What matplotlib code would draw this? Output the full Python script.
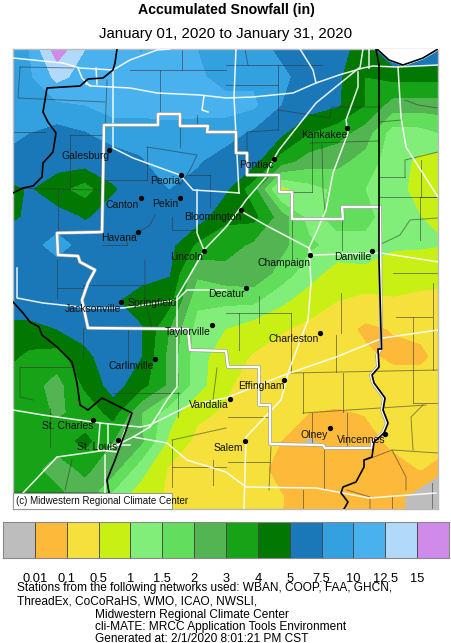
import matplotlib
matplotlib.use('Agg')
import matplotlib.pyplot as plt
import numpy as np

plt.rcParams['font.family'] = ['Liberation Sans', 'DejaVu Sans']

W, H = 452, 643

# legend
levels = [0, 0.01, 0.1, 0.5, 1, 1.5, 2, 3, 4, 5, 7.5, 10, 12.5, 15, 20]
level_labels = ['0.01', '0.1', '0.5', '1', '1.5', '2', '3', '4', '5', '7.5', '10', '12.5', '15']
colors = ['#BDBDBD', '#FDB93A', '#F5E03C', '#C8F015', '#80EE78', '#63DD5C', '#52B552',
          '#17A317', '#027802', '#1A78B8', '#33A0DF', '#4AB1EF', '#B1D9FA', '#D08BEA']

# snowfall (inches), rows top to bottom, x/y are image pixels
grid_x = [1, 29, 57, 85, 113, 141, 169, 197, 225, 253, 281, 309, 337, 365, 393, 421, 449]
grid_y = [49, 77, 105, 133, 161, 189, 217, 245, 273, 301, 329, 357, 385, 413, 441, 469, 497, 525]
snow = [
    [8.7, 10, 18, 12.5, 11, 9.8, 11, 10, 9, 8.5, 7, 6, 6, 4.5, 7.5, 7.5, 7.5],
    [9, 9.5, 13.2, 11.5, 11, 11, 11, 10.5, 9, 9.5, 8, 6.5, 5.5, 4, 4.3, 4.3, 4.3],
    [8.5, 9, 9.5, 10, 11, 11, 11.5, 11, 11, 10.5, 7.5, 6.2, 5.3, 4, 2.5, 2.5, 2.5],
    [8.5, 7.5, 6.5, 7.3, 8.7, 8.7, 8.7, 8.8, 8.7, 7, 5.5, 4, 3.4, 2.5, 1.25, 1.3, 1.6],
    [7, 6.8, 6.2, 6.2, 6, 7.2, 9, 7.8, 6.2, 6, 3.5, 2.5, 2.3, 1.8, 1.2, 0.9, 0.7],
    [4.5, 5.2, 4.3, 3.5, 4.9, 6, 7.5, 6.5, 5.5, 3.4, 0.8, 1.3, 1.6, 1.5, 1.2, 0.8, 0.6],
    [4.5, 5.5, 6, 4.9, 5.8, 6.2, 6, 6.3, 4.2, 4.3, 2.5, 1.3, 1.7, 1.6, 1.3, 1, 0.6],
    [6, 6.5, 8.5, 6.5, 6, 6, 5.8, 3.8, 3.5, 2.8, 2.3, 1.6, 1.3, 1.4, 1.05, 1.05, 1],
    [6, 6, 6, 6, 6, 6, 5.2, 2.2, 2.6, 2.8, 1.8, 1.2, 0.8, 0.8, 0.8, 0.7, 0.7],
    [6, 6, 6, 6, 5.3, 4.5, 4.4, 1.6, 1.6, 1.6, 1.1, 0.75, 0.5, 0.4, 0.45, 0.4, 0.35],
    [4.8, 4.8, 5, 5.7, 6, 5.2, 3, 1.3, 1, 0.7, 0.55, 0.4, 0.3, 0.08, 0.12, 0.2, 0.3],
    [4.5, 3.7, 3.5, 4.8, 6, 5, 2.7, 1.2, 0.7, 0.47, 0.3, 0.25, 0.25, 0.2, 0.08, 0.08, 0.3],
    [3.6, 3.4, 2.6, 4.2, 6, 4.4, 2.8, 1.2, 0.6, 0.3, 0.3, 0.3, 0.3, 0.3, 0.3, 0.3, 0.3],
    [3.5, 3.3, 2.9, 3.2, 4.4, 2, 1.2, 0.6, 0.45, 0.3, 0.11, 0.1, 0.09, 0.12, 0.3, 0.3, 0.3],
    [3.4, 3.3, 3.4, 4.3, 3, 2.2, 0.9, 0.4, 0.3, 0.25, 0.1, 0.008, 0.06, 0.06, 0.2, 0.3, 0.3],
    [3.3, 3.3, 2.6, 3.2, 2.4, 1.2, 0.45, 0.3, 0.3, 0.25, 0.07, 0.06, 0.06, 0.06, 0.06, 0.12, 0.01],
    [3.3, 3.3, 3.3, 2.5, 1.3, 0.7, 0.45, 0.3, 0.3, 0.3, 0.12, 0.06, 0.05, 0.05, 0.05, 0.004, 0.002],
    [3.3, 3, 2.5, 2, 1, 0.6, 0.4, 0.3, 0.3, 0.3, 0.1, 0.05, 0.05, 0.05, 0.05, 0.002, 0.001],
]

# cities: name, dot x, dot y, label left x, label y
cities = [
    ('Galesburg', 109.5, 150, 62, 156), ('Peoria', 181, 175, 150, 181), ('Canton', 141, 198, 106, 205),
    ('Pekin', 180, 198, 152, 204), ('Havana', 138, 232, 101, 238), ('Bloomington', 241, 210, 184, 217),
    ('Lincoln', 204, 251, 170, 257), ('Kankakee', 347, 128, 301, 135), ('Pontiac', 274, 159, 239, 165),
    ('Champaign', 310, 255, 258, 263), ('Danville', 372, 251, 334, 257), ('Decatur', 246, 288, 208, 294),
    ('Springfield', 121, 302, 128, 303), ('Jacksonville', None, None, 65, 309), ('Taylorville', 212, 325, 165, 332),
    ('Charleston', 320, 333, 269, 339), ('Carlinville', 155, 359, 109, 366), ('Effingham', 284, 380, 238, 386),
    ('Vandalia', 230, 399, 189, 405), ('Salem', 245, 441, 214, 448), ('Olney', 330, 428, 301, 435),
    ('Vincennes', 385, 434, 337, 440), ('St. Charles', 93, 420, 42, 426), ('St. Louis', 118, 440, 77, 447),
]

# state lines
state_west_n = [(117, 49), (115, 63), (113, 70), (103, 78), (88, 79), (80, 86), (47, 88), (45, 100), (43, 112),
                (48, 122), (56, 133), (53, 152), (43, 163), (42, 177), (33, 186), (23, 188), (13, 193)]
state_west_s = [(13, 302), (23, 313), (30, 322), (39, 327), (42, 335), (57, 347), (72, 362), (77, 383), (80, 405),
                (88, 410), (102, 398), (112, 403), (132, 413), (125, 433), (115, 460), (107, 480), (109, 493), (109, 500)]
state_east = [(376, 49), (379, 65), (379, 260), (381.5, 349), (378, 349), (379, 367), (372, 375), (374, 383),
              (385, 398), (383, 410), (388, 423), (384, 433), (374, 442), (372, 457), (364, 460), (364, 467),
              (356, 482), (343, 487), (341, 493), (348, 502), (344, 509)]
lake_shore = [(377, 49), (389, 60), (403, 65), (423, 58), (438, 49)]

# forecast area outline
area_outline = [(380, 207), (342, 207), (343, 219), (292, 219), (292, 192), (279, 192), (279, 175), (247, 175),
                (247, 153), (236, 153), (236, 132), (207, 132), (208, 126), (180, 126), (180, 114), (158, 114),
                (158, 125), (104, 125), (102, 232), (57, 233), (58, 255), (78, 256), (80, 262), (95, 270), (88, 283),
                (82, 300), (88, 328), (188, 329), (190, 350), (226, 351), (228, 367), (259, 367), (259, 405),
                (270, 405), (270, 444), (323, 445), (325, 448), (372, 448), (372, 442), (383, 433), (387, 423),
                (382, 410), (384, 398), (373, 383), (371, 375), (378, 367), (377, 355), (381, 349), (380, 207)]

highways = [
    [(13, 58), (33, 60), (63, 63), (80, 68), (113, 70), (130, 60), (157, 50), (170, 49)],
    [(113, 70), (113, 148), (133, 158), (180, 175), (193, 190), (226, 192), (239, 193)],
    [(197, 190), (197, 233), (204, 250)],
    [(239, 210), (269, 227), (309, 248), (312, 255), (381, 253), (439, 262)],
    [(359, 68), (316, 103), (279, 150), (269, 167), (266, 177), (246, 200), (239, 210), (226, 227), (204, 250),
     (197, 263), (177, 297), (177, 387), (167, 400), (150, 427), (133, 437)],
    [(226, 290), (187, 290), (177, 300), (123, 308), (90, 308), (43, 303), (17, 298), (17, 268)],
    [(358, 72), (358, 87), (346, 120), (348, 133), (333, 173), (326, 210), (316, 233), (309, 248), (311, 283),
     (308, 320), (289, 370), (281, 400), (246, 437), (244, 509)],
    [(13, 410), (43, 415), (100, 423), (140, 427), (150, 425), (190, 405), (226, 398), (284, 375), (336, 357),
     (383, 338), (438, 330)],
    [(133, 437), (167, 443), (187, 460), (226, 472), (246, 487), (316, 488), (369, 498), (436, 493)],
    [(23, 493), (57, 457), (107, 450), (133, 437)],
    [(105, 455), (105, 509)],
    [(100, 423), (98, 450), (118, 452), (125, 430)],
    [(108, 425), (108, 445), (130, 445)],
    [(86, 84), (92, 86), (130, 88), (157, 93), (200, 95), (226, 98), (253, 97), (293, 93), (316, 83), (339, 75),
     (363, 68), (373, 66), (397, 67), (438, 65)],
    [(398, 67), (401, 117), (406, 147), (438, 197)],
    [(236, 49), (234, 97), (239, 193)],
    [(300, 49), (313, 70), (316, 83)],
    [(369, 49), (369, 68)],
    [(363, 49), (360, 68)],
    [(204, 96), (202, 110), (208, 112)],
    [(78, 68), (82, 78), (90, 86)],
    [(96, 68), (97, 84)],
]

county_lines = [
    [(20, 67), (73, 68)], [(20, 67), (18, 98), (105, 102)], [(107, 80), (105, 133)], [(13, 132), (45, 132)],
    [(70, 135), (70, 190)], [(70, 135), (105, 135)], [(58, 190), (58, 232)], [(13, 188), (102, 190)],
    [(102, 180), (147, 180)], [(147, 147), (147, 180)], [(147, 147), (197, 155), (190, 170), (180, 185)],
    [(180, 127), (180, 147)], [(197, 115), (197, 127)], [(160, 70), (160, 113)], [(130, 70), (226, 70)],
    [(182, 49), (182, 70)], [(210, 175), (210, 207)], [(187, 175), (210, 175)], [(172, 217), (172, 230), (197, 230)],
    [(102, 245), (127, 245)], [(127, 245), (127, 240), (150, 225), (155, 215)],
    [(226, 65), (245, 65), (322, 65)], [(245, 49), (248, 65)], [(278, 65), (278, 130)], [(226, 85), (278, 85)],
    [(278, 130), (247, 132), (247, 153)], [(278, 110), (330, 118), (332, 107), (379, 107)],
    [(312, 133), (312, 192)], [(310, 143), (379, 141)], [(322, 145), (323, 190), (325, 210)],
    [(292, 192), (312, 192)], [(379, 177), (405, 177)], [(405, 177), (405, 160), (438, 152)],
    [(405, 100), (418, 105), (438, 108)], [(379, 122), (402, 120)], [(421, 160), (421, 197), (438, 197)],
    [(379, 197), (438, 197)], [(379, 245), (400, 235), (410, 220), (438, 218)], [(420, 197), (420, 240)],
    [(342, 207), (342, 250)], [(292, 220), (292, 260)],
    [(57, 260), (57, 298)], [(57, 288), (83, 288), (83, 285), (143, 285)], [(145, 260), (145, 300), (152, 328)],
    [(83, 328), (83, 357)], [(128, 328), (128, 367)], [(20, 367), (20, 397), (33, 400)], [(20, 367), (72, 367)],
    [(179, 393), (113, 393)], [(50, 408), (50, 447)], [(178, 392), (178, 417)], [(217, 368), (213, 400)],
    [(172, 440), (172, 487)], [(172, 440), (226, 428)], [(72, 460), (65, 490)], [(13, 492), (110, 493)],
    [(172, 467), (226, 467)],
    [(291, 313), (291, 373)], [(291, 373), (439, 370)], [(303, 373), (303, 413)], [(303, 413), (426, 405)],
    [(341, 293), (341, 333)], [(343, 373), (343, 412)], [(336, 335), (336, 372)], [(312, 413), (312, 443)],
    [(347, 413), (347, 447)], [(413, 317), (413, 403)], [(393, 273), (439, 273)], [(396, 317), (432, 317)],
    [(433, 283), (433, 370)], [(413, 403), (439, 403)], [(423, 405), (411, 417), (413, 450)],
    [(228, 417), (270, 417)], [(270, 462), (228, 462)], [(271, 447), (269, 490)], [(324, 450), (324, 488)],
    [(303, 490), (303, 509)], [(366, 460), (392, 450), (438, 453)], [(392, 450), (406, 477), (406, 490)],
    [(239, 313), (239, 350)], [(259, 296), (259, 323)], [(226, 313), (291, 313)], [(213, 460), (213, 485)],
    [(347, 490), (370, 497), (370, 509)], [(432, 483), (432, 509)], [(392, 497), (392, 509)],
]

fig = plt.figure(figsize=(W / 100, H / 100), dpi=100)


def px_axes(left, top, right, bottom):
    return fig.add_axes([left / W, 1 - bottom / H, (right - left) / W, (bottom - top) / H])


# map
ax = px_axes(13, 49, 438.5, 509)
ranks = np.interp(np.array(snow), levels, np.arange(len(levels)))
ax.contourf(grid_x, grid_y, ranks, levels=np.arange(len(levels)), colors=colors, zorder=1)

for line in county_lines:
    xs, ys = zip(*line)
    ax.plot(xs, ys, color='#333333', alpha=0.55, lw=0.7, zorder=2)
for line in highways:
    xs, ys = zip(*line)
    ax.plot(xs, ys, color='white', alpha=0.9, lw=1.1, zorder=3)

xs, ys = zip(*area_outline)
ax.plot(xs, ys, color='#999999', lw=2.6, zorder=4)
ax.plot(xs, ys, color='white', lw=1.7, zorder=4.1)

xs, ys = zip(*lake_shore)
ax.fill_between(xs, 49, ys, color='white', zorder=5)
ax.plot(xs, ys, color='black', lw=1.2, zorder=6)
for line in [state_west_n, state_west_s, state_east]:
    xs, ys = zip(*line)
    ax.plot(xs, ys, color='black', lw=1.2, zorder=6)

for name, dot_x, dot_y, label_x, label_y in cities:
    if dot_x is not None:
        ax.plot(dot_x, dot_y, 'o', color='black', ms=3.8, mew=0, zorder=7)
    ax.text(label_x, label_y, name, fontsize=7.5, color='#111111', ha='left', va='center', zorder=8)

ax.text(16, 501.5, '(c) Midwestern Regional Climate Center', fontsize=7, color='#111111', va='center', zorder=10,
        bbox=None)
ax.fill_between([13, 172], 493, 509, facecolor='white', edgecolor='#999999', lw=0.8, zorder=9)

ax.set_xlim(13, 438.5)
ax.set_ylim(509, 49)
ax.set_xticks([])
ax.set_yticks([])
for spine in ax.spines.values():
    spine.set_color('#BBBBBB')
    spine.set_linewidth(1)

# colour key
cax = px_axes(3, 522, 449, 558)
for i, color in enumerate(colors):
    cax.bar(i, 1, width=1, align='edge', color=color, edgecolor='#444444', lw=0.6)
cax.set_xlim(0, len(colors))
cax.set_ylim(0, 1)
cax.set_yticks([])
cax.set_xticks(np.arange(1, len(colors)))
cax.set_xticklabels(level_labels, fontsize=9.3)
cax.tick_params(axis='x', length=0, pad=11)
for spine in cax.spines.values():
    spine.set_color('#888888')

# title
fig.text(226 / W, 1 - 10 / H, 'Accumulated Snowfall (in)', fontsize=10.2, fontweight='bold', ha='center', va='center')
fig.text(226 / W, 1 - 34 / H, 'January 01, 2020 to January 31, 2020', fontsize=10.8, ha='center', va='center')

# footer
footer = [
    (17, 588, 'Stations from the following networks used: WBAN, COOP, FAA, GHCN,'),
    (17, 602, 'ThreadEx, CoCoRaHS, WMO, ICAO, NWSLI,'),
    (95, 615, 'Midwestern Regional Climate Center'),
    (95, 627, 'cli-MATE: MRCC Application Tools Environment'),
    (95, 639, 'Generated at: 2/1/2020 8:01:21 PM CST'),
]
for x, y, s in footer:
    fig.text(x / W, 1 - y / H, s, fontsize=8.6, ha='left', va='center')

fig.savefig('out.png', dpi=100)
